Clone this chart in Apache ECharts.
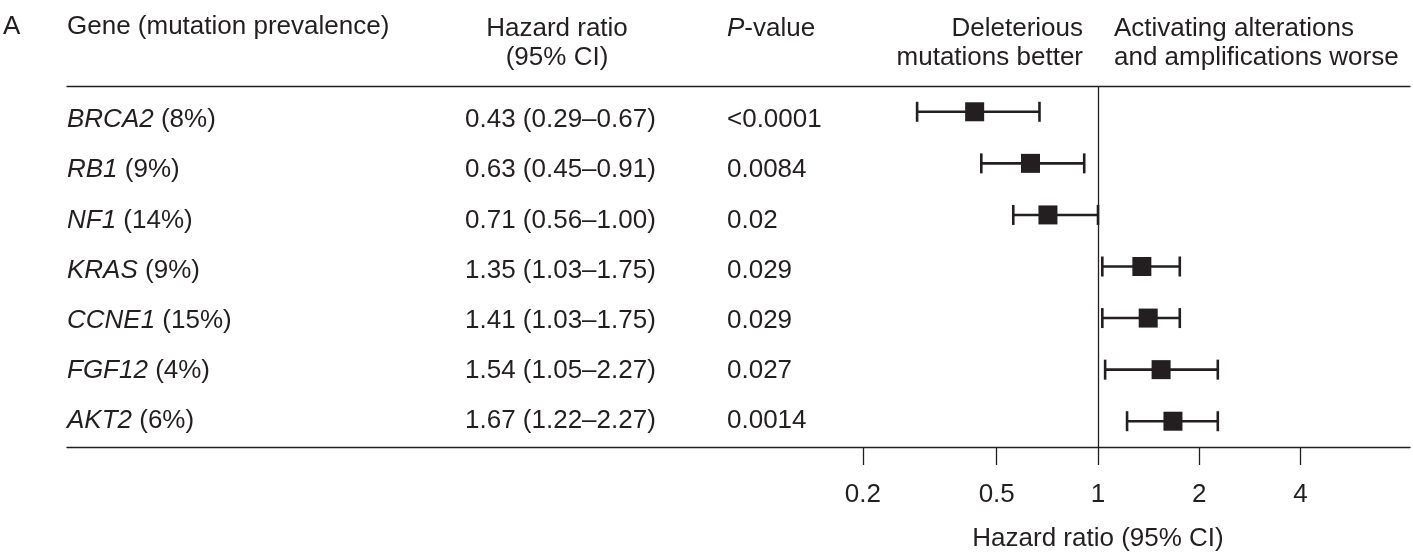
<!DOCTYPE html>
<html>
<head>
<meta charset="utf-8">
<script src="https://cdn.jsdelivr.net/npm/echarts@6/dist/echarts.min.js"></script>
<style>
  html, body { margin: 0; padding: 0; background: #fff; }
  #chart { width: 1413px; height: 553px; }
</style>
</head>
<body>
<div id="chart"></div>
<script>
// 基因与突变比例
const genes = ['BRCA2', 'RB1', 'NF1', 'KRAS', 'CCNE1', 'FGF12', 'AKT2'];
const prevalence = [8, 9, 14, 9, 15, 4, 6];

// 风险比及95%置信区间
const hazardRatio = [0.43, 0.63, 0.71, 1.35, 1.41, 1.54, 1.67];
const ciLow = [0.29, 0.45, 0.56, 1.03, 1.03, 1.05, 1.22];
const ciHigh = [0.67, 0.91, 1.00, 1.75, 1.75, 2.27, 2.27];

// P值
const pValues = ['<0.0001', '0.0084', '0.02', '0.029', '0.029', '0.027', '0.0014'];

// x轴刻度
const xTicks = [0.2, 0.5, 1, 2, 4];

const INK = '#231f20';
const FONT = '"Liberation Sans", Arial, Helvetica, sans-serif';
const FS = 26;

// 对数轴范围：1 落在 x=1098，每个数量级约 336.5px
const gridLeft = 67, gridRight = 3, W = 1413;
const oneX = 1098, pxPerDecade = 336.5;
const xMin = Math.pow(10, -(oneX - gridLeft) / pxPerDecade);
const xMax = Math.pow(10, (W - gridRight - oneX) / pxPerDecade);

const chart = echarts.init(document.getElementById('chart'));

function hrText(i) {
    return hazardRatio[i].toFixed(2) + ' (' + ciLow[i].toFixed(2) + '\u2013' + ciHigh[i].toFixed(2) + ')';
}

// 表格文字列（放在第二个网格里，行距略小于图形行距）
function textCol(offset, formatter, rich) {
    return {
        type: 'category',
        gridIndex: 1,
        data: genes,
        inverse: true,
        position: 'left',
        offset: offset,
        axisLine: { show: false },
        axisTick: { show: false },
        splitLine: { show: false },
        axisLabel: {
            align: 'left',
            margin: 0,
            fontSize: FS,
            fontFamily: FONT,
            color: INK,
            formatter: formatter,
            rich: rich
        }
    };
}

const option = {
    backgroundColor: '#fff',
    animation: false,
    textStyle: { fontFamily: FONT },
    grid: [
        { left: gridLeft, right: gridRight, top: 86, bottom: 106 },
        { left: gridLeft, right: gridRight, top: 95, bottom: 107 }
    ],
    xAxis: [
        {
            type: 'log',
            logBase: 10,
            min: xMin,
            max: xMax,
            position: 'bottom',
            axisLine: { show: true, lineStyle: { color: INK, width: 1.3 } },
            axisTick: { show: true, customValues: xTicks, length: 18, lineStyle: { color: INK, width: 1.3 } },
            axisLabel: {
                customValues: xTicks,
                margin: 35,
                fontSize: FS,
                fontFamily: FONT,
                color: INK,
                formatter: v => String(+(+v).toPrecision(3))
            },
            splitLine: { show: false },
            minorTick: { show: false }
        },
        {
            type: 'log',
            logBase: 10,
            min: xMin,
            max: xMax,
            position: 'top',
            axisLine: { show: true, lineStyle: { color: INK, width: 1.3 } },
            axisTick: { show: false },
            axisLabel: { show: false },
            splitLine: { show: false }
        },
        {
            type: 'value',
            gridIndex: 1,
            show: false
        }
    ],
    yAxis: [
        {
            type: 'category',
            data: genes,
            inverse: true,
            show: false
        },
        textCol(0, (v, i) => '{g|' + genes[i] + '} (' + prevalence[i] + '%)', {
            g: { fontStyle: 'italic', fontSize: FS, fontFamily: FONT, color: INK }
        }),
        textCol(-(465 - gridLeft), (v, i) => hrText(i)),
        textCol(-(727 - gridLeft), (v, i) => pValues[i])
    ],
    graphic: [
        { type: 'text', left: 3, top: 14, style: { text: 'A', font: FS + 'px ' + FONT, fill: INK } },
        { type: 'text', left: 67, top: 14, style: { text: 'Gene (mutation prevalence)', font: FS + 'px ' + FONT, fill: INK } },
        {
            type: 'text', x: 557, y: 43,
            style: { text: 'Hazard ratio\n(95% CI)', font: FS + 'px ' + FONT, fill: INK, align: 'center', verticalAlign: 'middle', lineHeight: 29 }
        },
        {
            type: 'text', x: 727, y: 29,
            style: {
                text: '{i|P}-value', font: FS + 'px ' + FONT, fill: INK, verticalAlign: 'middle',
                rich: { i: { fontStyle: 'italic', fontSize: FS, fontFamily: FONT, fill: INK } }
            }
        },
        {
            type: 'text', x: 1083, y: 43,
            style: { text: 'Deleterious\nmutations better', font: FS + 'px ' + FONT, fill: INK, align: 'right', verticalAlign: 'middle', lineHeight: 29 }
        },
        {
            type: 'text', x: 1114, y: 43,
            style: { text: 'Activating alterations\nand amplifications worse', font: FS + 'px ' + FONT, fill: INK, align: 'left', verticalAlign: 'middle', lineHeight: 29 }
        },
        {
            type: 'text', x: oneX, y: 539,
            style: { text: 'Hazard ratio (95% CI)', font: FS + 'px ' + FONT, fill: INK, align: 'center', verticalAlign: 'middle' }
        }
    ],
    series: [
        {
            // 置信区间须线
            type: 'custom',
            xAxisIndex: 0,
            yAxisIndex: 0,
            data: genes.map((g, i) => [ciLow[i], ciHigh[i], i]),
            encode: { x: [0, 1], y: 2 },
            renderItem: function (params, api) {
                const a = api.coord([api.value(0), api.value(2)]);
                const b = api.coord([api.value(1), api.value(2)]);
                const h = 10;
                const style = { stroke: INK, lineWidth: 2.6 };
                return {
                    type: 'group',
                    children: [
                        { type: 'line', shape: { x1: a[0], y1: a[1], x2: b[0], y2: b[1] }, style: style },
                        { type: 'line', shape: { x1: a[0], y1: a[1] - h, x2: a[0], y2: a[1] + h }, style: style },
                        { type: 'line', shape: { x1: b[0], y1: b[1] - h, x2: b[0], y2: b[1] + h }, style: style }
                    ]
                };
            },
            z: 2
        },
        {
            // 点估计
            type: 'scatter',
            xAxisIndex: 0,
            yAxisIndex: 0,
            symbol: 'rect',
            symbolSize: 19,
            itemStyle: { color: INK, opacity: 1 },
            data: hazardRatio.map((v, i) => [v, i]),
            z: 3,
            markLine: {
                silent: true,
                symbol: 'none',
                label: { show: false },
                lineStyle: { color: INK, width: 1.3, type: 'solid', opacity: 1 },
                data: [{ xAxis: 1 }]
            }
        }
    ]
};

chart.setOption(option);
</script>
</body>
</html>
